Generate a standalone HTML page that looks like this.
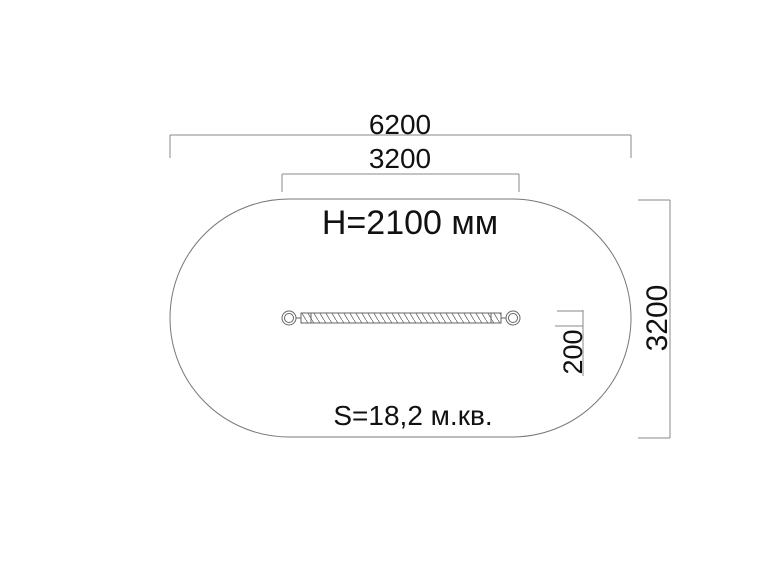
<!DOCTYPE html>
<html><head><meta charset="utf-8"><style>html,body{margin:0;padding:0;background:#fff}</style></head>
<body>
<svg width="768" height="569" viewBox="0 0 768 569" xmlns="http://www.w3.org/2000/svg" font-family="Liberation Sans, sans-serif">
<defs>
<pattern id="rope" width="6" height="10" patternUnits="userSpaceOnUse">
<path d="M0,0 L6,10" stroke="#666" stroke-width="0.8"/>
</pattern>
</defs>
<rect x="170" y="199" width="461" height="238" rx="119" ry="119" fill="none" stroke="#777" stroke-width="1"/>
<g stroke="#888" stroke-width="1" fill="none">
<line x1="170" y1="135" x2="631" y2="135"/>
<line x1="170" y1="135" x2="170" y2="158"/>
<line x1="631" y1="135" x2="631" y2="158"/>
<line x1="282" y1="174" x2="519" y2="174"/>
<line x1="282" y1="174" x2="282" y2="192"/>
<line x1="519" y1="174" x2="519" y2="192"/>
<line x1="670" y1="200" x2="670" y2="438"/>
<line x1="638" y1="200" x2="670" y2="200"/>
<line x1="638" y1="438" x2="670" y2="438"/>
<line x1="583" y1="310" x2="583" y2="376"/>
<line x1="557" y1="311" x2="583" y2="311"/>
<line x1="555" y1="326" x2="583" y2="326"/>
</g>
<g stroke="#666" stroke-width="1" fill="none">
<circle cx="289" cy="318" r="7"/><circle cx="289" cy="318" r="4.5"/>
<circle cx="513" cy="318" r="7"/><circle cx="513" cy="318" r="4.5"/>
<line x1="296" y1="318" x2="301" y2="318"/>
<line x1="501" y1="318" x2="506" y2="318"/>
<rect x="301" y="313" width="200" height="10" fill="url(#rope)"/>
<rect x="301" y="313" width="10" height="10"/>
<rect x="491" y="313" width="10" height="10"/>
</g>
<g fill="#111" text-anchor="middle">
<text x="400" y="134" font-size="28">6200</text>
<text x="400" y="168" font-size="28">3200</text>
<text x="410" y="234" font-size="34">H=2100 мм</text>
<text x="413" y="425" font-size="28">S=18,2 м.кв.</text>
<text transform="translate(667,318) rotate(-90)" font-size="30">3200</text>
<text transform="translate(582,352) rotate(-90)" font-size="27">200</text>
</g>
</svg>
</body></html>
